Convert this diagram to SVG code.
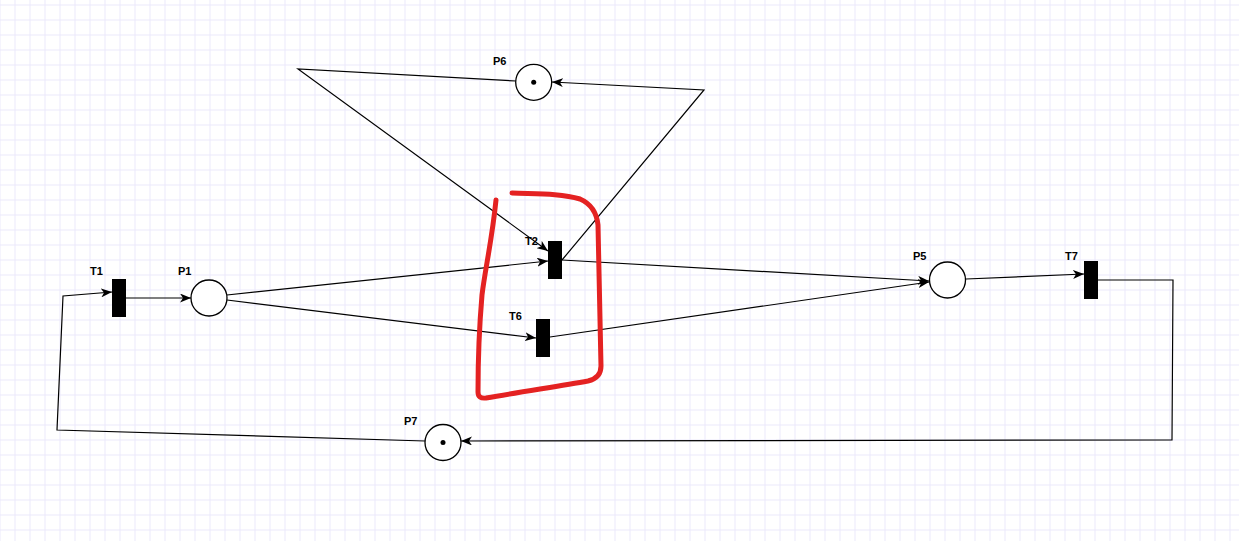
<svg xmlns="http://www.w3.org/2000/svg" width="1239" height="541" viewBox="0 0 1239 541">
<defs>
<pattern id="grid" x="14.5" y="4.5" width="15" height="15" patternUnits="userSpaceOnUse">
<path d="M0.5,0 V15 M0,0.5 H15" fill="none" stroke="#ebe8fb" stroke-width="1"/>
</pattern>
<marker id="arr" viewBox="0 0 11 9" refX="11" refY="4.5" markerWidth="11" markerHeight="9" markerUnits="userSpaceOnUse" orient="auto">
<path d="M0,0 L11,4.5 L0,9 L3,4.5 Z" fill="#000"/>
</marker>
<style>
.edge{fill:none;stroke:#000;stroke-width:1.2;marker-end:url(#arr)}
.place{fill:#fff;stroke:#000;stroke-width:1.3}
.trans{fill:#000}
.lbl{font-family:"Liberation Sans",Arial,sans-serif;font-size:11px;font-weight:bold;fill:#000}
</style>
</defs>
<rect width="1239" height="541" fill="#fff"/>
<rect width="1239" height="541" fill="url(#grid)"/>
<g id="connectors">
<polyline class="edge" points="425,441 57,430 63,296 112,292"/>
<line class="edge" x1="126" y1="298" x2="191" y2="298"/>
<line class="edge" x1="227" y1="295" x2="548" y2="261"/>
<line class="edge" x1="227" y1="300" x2="536" y2="338"/>
<line class="edge" x1="562" y1="260" x2="929" y2="281"/>
<line class="edge" x1="550" y1="337" x2="929" y2="282"/>
<line class="edge" x1="966" y1="279" x2="1084" y2="274"/>
<polyline class="edge" points="1098,280 1173,280 1172,440 461,441"/>
<polyline class="edge" points="562,260 704,90 552,82"/>
<polyline class="edge" points="516,81 298,69 548,251"/>
</g>
<g id="T1"><rect class="trans" x="112" y="279" width="14" height="38"/><text class="lbl" x="90" y="274.5">T1</text></g>
<g id="P1"><circle class="place" cx="209" cy="298" r="18"/><text class="lbl" x="178" y="274.5">P1</text></g>
<g id="T2"><rect class="trans" x="548" y="241" width="14" height="38"/><text class="lbl" x="525" y="245">T2</text></g>
<g id="T6"><rect class="trans" x="536" y="319" width="14" height="38"/><text class="lbl" x="509" y="320">T6</text></g>
<g id="P6"><circle class="place" cx="533.7" cy="82.3" r="18"/><circle cx="533.7" cy="82.3" r="2.5" fill="#000"/><text class="lbl" x="493" y="64.5">P6</text></g>
<g id="P5"><circle class="place" cx="947.5" cy="280" r="18"/><text class="lbl" x="913" y="260">P5</text></g>
<g id="T7"><rect class="trans" x="1084" y="261" width="14" height="38"/><text class="lbl" x="1065" y="260">T7</text></g>
<g id="P7"><circle class="place" cx="443" cy="442.5" r="18"/><circle cx="443" cy="442.5" r="2.5" fill="#000"/><text class="lbl" x="404" y="425">P7</text></g>
<path d="M496,200 C492,240 485,270 482,295 C479,330 478,360 478,392 Q478,399 486,398 C520,392 560,386 588,381 Q601,378 601,366 C600,330 599,280 598,225 Q596,206 580,199 C560,193 535,194 512,193" fill="none" stroke="#e42222" stroke-width="5" stroke-linecap="round" stroke-linejoin="round"/>
</svg>
